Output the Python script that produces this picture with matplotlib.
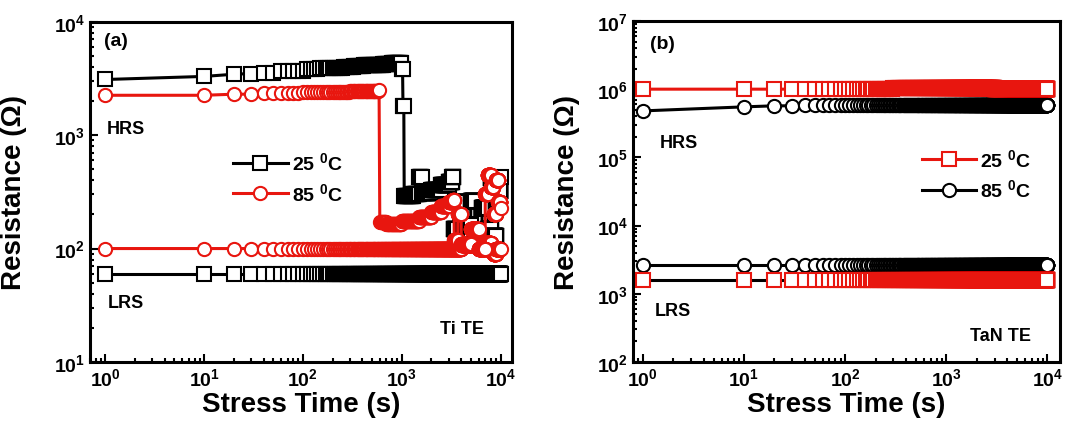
import numpy as np
import matplotlib
matplotlib.use('Agg')
import matplotlib.pyplot as plt
from matplotlib.ticker import LogLocator, NullFormatter

plt.rcParams['font.family'] = ['Liberation Sans', 'DejaVu Sans']
plt.rcParams['font.weight'] = 'bold'
plt.rcParams['mathtext.fontset'] = 'custom'
plt.rcParams['mathtext.rm'] = 'Liberation Sans:bold'
plt.rcParams['mathtext.bf'] = 'Liberation Sans:bold'
plt.rcParams['mathtext.default'] = 'bf'

# stress time sampling: 1 s, then every 10 s up to 10^4 s
t = np.concatenate([[1], np.arange(10, 10001, 10)])

# readings (time, resistance), held until the next reading
# panel (a) Ti TE
a_hrs25_t = [1, 10, 20, 30, 40, 60, 80, 110, 150, 200, 260, 330, 420, 520, 650, 800, 900, 1000, 1030, 1060, 1300,
             1500, 1600, 2000, 2500, 3000, 3250, 3350, 3600, 4100, 5000, 5500, 6500, 7500, 8000, 8500, 9000, 9500,
             10000]
a_hrs25_r = [3100, 3300, 3450, 3500, 3550, 3650, 3700, 3800, 3880, 3950, 4020, 4080, 4150, 4200, 4260, 4320, 4350,
             3800, 1800, 290, 300, 430, 310, 330, 360, 390, 430, 150, 260, 160, 265, 140, 230, 150, 420, 130, 260,
             320, 430]
a_hrs85_t = [1, 10, 20, 40, 100, 300, 590, 600, 700, 1000, 1500, 2000, 2500, 3000, 3300, 3400, 3700, 4000, 5000,
             6000, 7000, 7400, 8000, 8500, 9000, 9500, 10000]
a_hrs85_r = [2250, 2250, 2300, 2350, 2400, 2450, 2500, 170, 165, 175, 190, 210, 235, 260, 270, 120, 200, 110, 150,
             100, 300, 450, 350, 200, 400, 260, 230]
a_lrs85_t = [1, 3000, 4000, 6000, 8000, 8500, 9000]
a_lrs85_r = [100, 100, 108, 112, 95, 90, 100]
a_lrs25_t = [1]
a_lrs25_r = [60]

# panel (b) TaN TE
b_hrs25_t = [1, 300, 3000]
b_hrs25_r = [1.0e6, 1.03e6, 1.0e6]
b_hrs85_t = [1, 10, 20, 40, 100]
b_hrs85_r = [4.8e5, 5.5e5, 5.7e5, 5.8e5, 5.9e5]
b_lrs85_t = [1]
b_lrs85_r = [2650]
b_lrs25_t = [1]
b_lrs25_r = [1600]


def hold(times, vals):
    idx = np.searchsorted(times, t, side='right') - 1
    return np.array(vals, dtype=float)[idx]


RED = '#e8160f'
ms = 9.5
mew = 1.5
lw = 2.2

fig = plt.figure(figsize=(10.72, 4.31), dpi=100)
ax1 = fig.add_axes([0.084, 0.158, 0.394, 0.789])
ax2 = fig.add_axes([0.5905, 0.158, 0.398, 0.791])


def series(ax, y, lc, mc, marker):
    return ax.plot(t, y, color=lc, lw=lw, marker=marker, ms=ms, mfc='white', mec=mc, mew=mew)[0]


# panel a
l25 = series(ax1, hold(a_lrs25_t, a_lrs25_r), 'black', 'black', 's')
series(ax1, hold(a_hrs25_t, a_hrs25_r), 'black', 'black', 's')
series(ax1, hold(a_lrs85_t, a_lrs85_r), RED, RED, 'o')
l85 = series(ax1, hold(a_hrs85_t, a_hrs85_r), RED, RED, 'o')
ax1.set_ylim(10, 1e4)
ax1.set_xlim(0.7, 1.32e4)
ax1.legend([l25, l85], ['25 $^0$C', '85 $^0$C'], loc='center left', bbox_to_anchor=(0.339, 0.541),
           frameon=False, fontsize=14, handlelength=2.8, handletextpad=0.2, borderpad=0, borderaxespad=0,
           labelspacing=0.45)
ax1.text(0.033, 0.944, '(a)', transform=ax1.transAxes, fontsize=14, fontweight='bold', va='center')
ax1.text(0.04, 0.685, 'HRS', transform=ax1.transAxes, fontsize=13, fontweight='bold', va='center')
ax1.text(0.043, 0.174, 'LRS', transform=ax1.transAxes, fontsize=13, fontweight='bold', va='center')
ax1.text(0.829, 0.097, 'Ti TE', transform=ax1.transAxes, fontsize=13, fontweight='bold', va='center')
ax1.yaxis.set_label_coords(-0.149, 0.5)

# panel b
b85 = series(ax2, hold(b_lrs85_t, b_lrs85_r), 'black', 'black', 'o')
series(ax2, hold(b_hrs85_t, b_hrs85_r), 'black', 'black', 'o')
series(ax2, hold(b_lrs25_t, b_lrs25_r), 'black', RED, 's')
b25 = series(ax2, hold(b_hrs25_t, b_hrs25_r), RED, RED, 's')
ax2.set_ylim(1e2, 1e7)
ax2.set_xlim(0.8, 1.32e4)
ax2.legend([b25, b85], ['25 $^0$C', '85 $^0$C'], loc='center left', bbox_to_anchor=(0.677, 0.551),
           frameon=False, fontsize=14, handlelength=2.8, handletextpad=0.2, borderpad=0, borderaxespad=0,
           labelspacing=0.45)
ax2.text(0.04, 0.933, '(b)', transform=ax2.transAxes, fontsize=14, fontweight='bold', va='center')
ax2.text(0.063, 0.645, 'HRS', transform=ax2.transAxes, fontsize=13, fontweight='bold', va='center')
ax2.text(0.052, 0.15, 'LRS', transform=ax2.transAxes, fontsize=13, fontweight='bold', va='center')
ax2.text(0.789, 0.076, 'TaN TE', transform=ax2.transAxes, fontsize=13, fontweight='bold', va='center')
ax2.yaxis.set_label_coords(-0.124, 0.5)

for ax in (ax1, ax2):
    ax.set_xscale('log')
    ax.set_yscale('log')
    ax.xaxis.set_major_locator(LogLocator(base=10, numticks=10))
    ax.xaxis.set_minor_locator(LogLocator(base=10, subs=np.arange(2, 10), numticks=10))
    ax.yaxis.set_major_locator(LogLocator(base=10, numticks=10))
    ax.yaxis.set_minor_locator(LogLocator(base=10, subs=np.arange(2, 10), numticks=10))
    ax.xaxis.set_minor_formatter(NullFormatter())
    ax.yaxis.set_minor_formatter(NullFormatter())
    ax.tick_params(which='both', direction='in', top=False, right=False, labelsize=14, width=1.5)
    ax.tick_params(which='major', length=6)
    ax.tick_params(which='minor', length=3)
    for s in ax.spines.values():
        s.set_linewidth(2.2)
    ax.set_xlabel('Stress Time (s)', fontsize=20, fontweight='bold', labelpad=2)
    ax.set_ylabel('Resistance (\u03a9)', fontsize=20, fontweight='bold')

fig.savefig('out.png', dpi=100)
